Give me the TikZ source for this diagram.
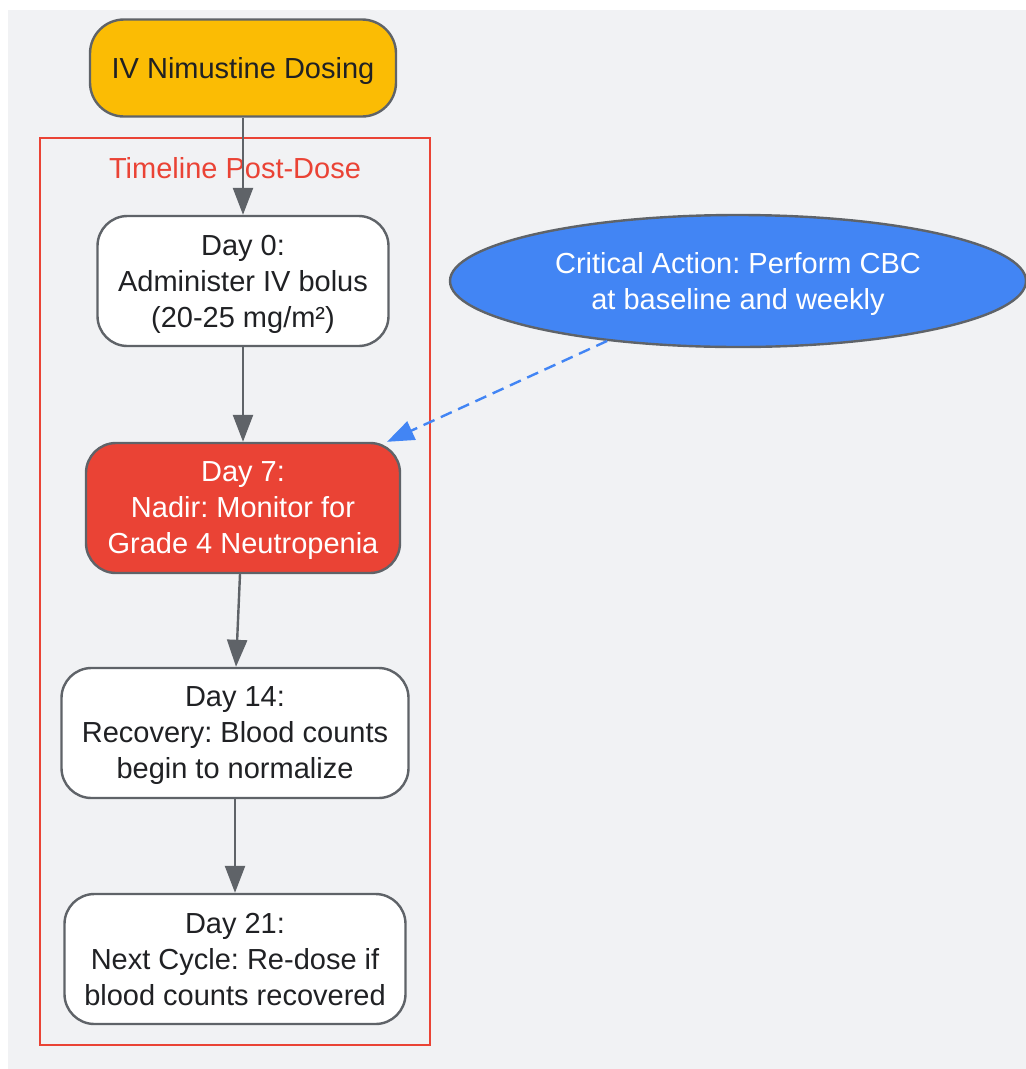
\documentclass[tikz,border=0pt]{standalone}
\usepackage{fontspec}
\setmainfont{Liberation Sans}
\usetikzlibrary{shapes.geometric,arrows.meta}
\definecolor{bggray}{HTML}{F1F2F4}
\definecolor{edgegray}{HTML}{5F6368}
\definecolor{textdark}{HTML}{202124}
\definecolor{gred}{HTML}{EA4335}
\definecolor{gyellow}{HTML}{FBBC04}
\definecolor{gblue}{HTML}{4285F4}
\frenchspacing

\begin{document}
\begin{tikzpicture}[x=1pt, y=-1pt,
	font=\fontsize{29}{36}\selectfont,
	stepbox/.style = {shape=rectangle, draw=edgegray, line width=2.4pt, rounded corners=30pt, align=center, fill=white, text=textdark, inner sep=0pt, text depth=0pt, minimum height=130pt},
	startbox/.style = {stepbox, fill=gyellow, rounded corners=34pt, minimum height=97pt},
	alertbox/.style = {stepbox, fill=gred, text=white},
	actionnode/.style = {shape=ellipse, draw=edgegray, line width=2.4pt, fill=gblue, text=white, align=center, inner sep=0pt, text depth=0pt, minimum width=576pt, minimum height=132pt},
	flow/.style = {draw=edgegray, line width=2.4pt, -{Triangle[length=27pt,width=20pt]}},
	check/.style = {draw=gblue, line width=2.4pt, dash pattern=on 12pt off 7pt, -{Triangle[length=27pt,width=20pt]}}]
	\useasboundingbox (0,0) rectangle (1026,1069);
	\fill[bggray] (8,10) rectangle (1026,1069);
	% timeline cluster
	\draw[gred, line width=2.4pt] (40,138) rectangle (430,1045);
	\node[text=gred] (cluster) at (235,168) {Timeline Post-Dose};
	% nodes
	\node[startbox, minimum width=306pt] (dosing) at (243,68) {IV Nimustine Dosing};
	\node[stepbox, minimum width=291pt] (day0) at (243,281) {Day 0:\\Administer IV bolus\\(20-25 mg/m²)};
	\node[alertbox, minimum width=314pt] (day7) at (243,508) {Day 7:\\Nadir: Monitor for\\Grade 4 Neutropenia};
	\node[stepbox, minimum width=347pt] (day14) at (235,733) {Day 14:\\Recovery: Blood counts\\begin to normalize};
	\node[stepbox, minimum width=341pt] (day21) at (235,959) {Day 21:\\Next Cycle: Re-dose if\\blood counts recovered};
	\node[actionnode] (cbc) at (738,281) {Critical Action: Perform CBC\\at baseline and weekly};
	% connectors
	\draw[flow] (dosing) -- (day0);
	\draw[flow] (day0) -- (day7);
	\draw[flow] (day7.south -| 240,0) -- (day14.north -| 236,0);
	\draw[flow] (day14) -- (day21.north -| day14);
	\draw[check] (cbc) -- (day7);
\end{tikzpicture}
\end{document}
